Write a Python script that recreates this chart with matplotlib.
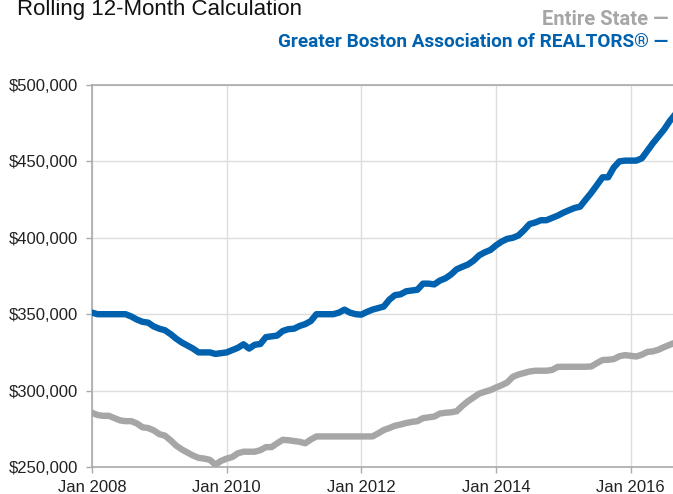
import matplotlib
matplotlib.use("Agg")
import matplotlib.pyplot as plt
from matplotlib.ticker import FuncFormatter

# Median sales price, rolling 12 months, in $ thousands (Jan 2008 .. Sep 2016)
gbar = [351, 350, 350, 350, 350, 350, 350, 348.5, 346.5, 345,
        344.5, 342, 340.5, 339.5, 337, 334, 331.5, 329.5, 327.5, 325,
        325, 325, 324, 324.5, 325, 326.5, 328, 330.3, 327.5, 330,
        330.5, 335, 335.5, 336, 339, 340.2, 340.5, 342.3, 343.5, 345.5,
        350, 350, 350, 350, 351, 353, 351, 350, 349.7, 351.5,
        353, 354, 355, 359.5, 362.5, 363, 365, 365.5, 366, 370,
        370, 369.5, 372, 373.5, 376, 379.4, 381, 382.5, 385, 388.5,
        390.5, 392, 395, 397.5, 399.3, 400, 401.5, 405, 409, 410,
        411.5, 411.5, 413, 414.5, 416.4, 418, 419.5, 420.4, 425, 429.5,
        434.5, 439.6, 439.6, 446, 450, 450.5, 450.5, 450.5, 452, 457,
        462, 466.5, 471, 476.5, 481]

state = [285.5, 284, 283.5, 283.5, 282, 280.5, 280, 280, 278.5, 276,
         275.5, 274, 271.5, 270.5, 267.5, 264, 261.5, 259.5, 257.5, 256,
         255.5, 254.7, 251.5, 254, 255.5, 256.5, 259, 260, 260, 260,
         261, 263, 263, 265.5, 267.8, 267.5, 267, 266.5, 265.5, 268,
         270, 270, 270, 270, 270, 270, 270, 270, 270, 270,
         270, 272, 274.2, 275.5, 277, 277.8, 278.8, 279.5, 280, 282,
         282.5, 283, 285, 285.5, 285.8, 286.5, 290, 293, 295.5, 298,
         299.2, 300.3, 302, 303.5, 305.3, 309, 310.5, 311.5, 312.5, 313,
         313, 313, 313.5, 315.5, 315.6, 315.6, 315.6, 315.6, 315.6, 315.8,
         318, 320, 320.2, 320.6, 322.5, 323.2, 322.8, 322.3, 323.5, 325.3,
         325.7, 326.8, 328.5, 330, 331.5]

tick_months = [0, 24, 48, 72, 96]
tick_labels = ["Jan 2008", "Jan 2010", "Jan 2012", "Jan 2014", "Jan 2016"]

BLUE = "#0061ae"
GRAY = "#a6a6a6"
font_ticks = ["Liberation Sans", "DejaVu Sans"]
font_legend = ["Roboto", "Liberation Sans", "DejaVu Sans"]

fig = plt.figure(figsize=(6.73, 4.94), dpi=100)
ax = fig.add_axes([92 / 673, 27 / 494, 581 / 673, 382 / 494])

months = list(range(len(gbar)))
ax.plot(months, state, color=GRAY, lw=4.6, solid_joinstyle="round", zorder=3)
ax.plot(months, gbar, color=BLUE, lw=4.6, solid_joinstyle="round", zorder=3)

ax.set_xlim(0, 103.56)
ax.set_ylim(250, 500)
ax.set_yticks([250, 300, 350, 400, 450, 500])
ax.yaxis.set_major_formatter(FuncFormatter(lambda v, p: f"${int(v * 1000):,}"))
ax.set_xticks(tick_months)
ax.set_xticklabels(tick_labels)

ax.grid(True, color="#dddddd", lw=1)
ax.set_axisbelow(True)
for side in ["left", "bottom", "top"]:
    ax.spines[side].set_color("#aaaaaa")
    ax.spines[side].set_linewidth(1.2)
ax.spines["right"].set_visible(False)
ax.tick_params(axis="both", color="#aaaaaa", length=4, width=1,
               labelsize=12, labelcolor="#222222")
ax.tick_params(axis="x", pad=5)
ax.tick_params(axis="y", pad=6)
for lab in ax.get_xticklabels() + ax.get_yticklabels():
    lab.set_family(font_ticks)

fig.text(17 / 673, 1 - 15 / 494, "Rolling 12-Month Calculation", fontsize=16,
         family=font_ticks, color="#111111", ha="left", va="baseline")

# legend lines, squeezed to the reference width
legend_items = [("Entire State \u2014", GRAY, 25, 127),
                ("Greater Boston Association of REALTORS\u00ae \u2014", BLUE, 47, 393)]
fig.canvas.draw()
renderer = fig.canvas.get_renderer()
for label, color, y_px, target_w in legend_items:
    t = fig.text(668 / 673, 1 - y_px / 494, label, fontsize=15,
                 family=font_legend, fontweight="bold", color=color,
                 ha="right", va="baseline")
    w = t.get_window_extent(renderer).width
    t.set_fontsize(15 * target_w / w)

fig.savefig("out.png", dpi=100)
